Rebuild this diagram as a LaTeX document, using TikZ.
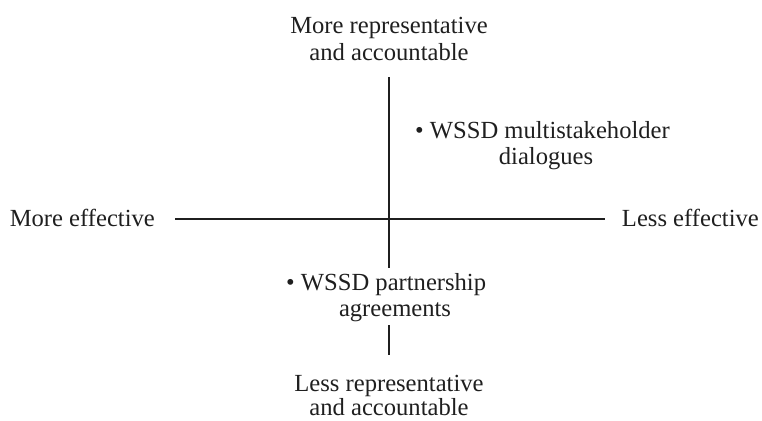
\documentclass[tikz,border=0pt]{standalone}
\usepackage{fontspec}
\setmainfont{Liberation Serif}
\begin{document}
\begin{tikzpicture}[x=1pt,y=-1pt,
  lbl/.style={inner sep=0pt,font=\fontsize{24.6}{26}\selectfont,text=black!88},
  axis/.style={line width=2pt,draw=black!88}]
\useasboundingbox (0,0) rectangle (762,420);
% axis end points
\coordinate (vtop) at (389,77);
\coordinate (vmid) at (389,268);
\coordinate (vlow) at (389,325);
\coordinate (vbot) at (389,355);
\coordinate (hl) at (175,219);
\coordinate (hr) at (605,219);
\draw[axis] (vtop) -- (vmid);
\draw[axis] (vlow) -- (vbot);
\draw[axis] (hl) -- (hr);
% labels
\node[lbl,anchor=base] (top1) at (389,34) {More representative};
\node[lbl,anchor=base] (top2) at (389,60) {and accountable};
\node[lbl,anchor=base] (bot1) at (389,391) {Less representative};
\node[lbl,anchor=base] (bot2) at (389,415) {and accountable};
\node[lbl,anchor=base east] (left) at (155,226) {More effective};
\node[lbl,anchor=base east] (right) at (759,226) {Less effective};
\node[lbl,anchor=base west] (ms1) at (415,138) {\textbullet\ WSSD multistakeholder};
\node[lbl,anchor=base] (ms2) at (546,164) {dialogues};
\node[lbl,anchor=base west] (pa1) at (286,290) {\textbullet\ WSSD partnership};
\node[lbl,anchor=base] (pa2) at (395,316) {agreements};
\end{tikzpicture}
\end{document}
